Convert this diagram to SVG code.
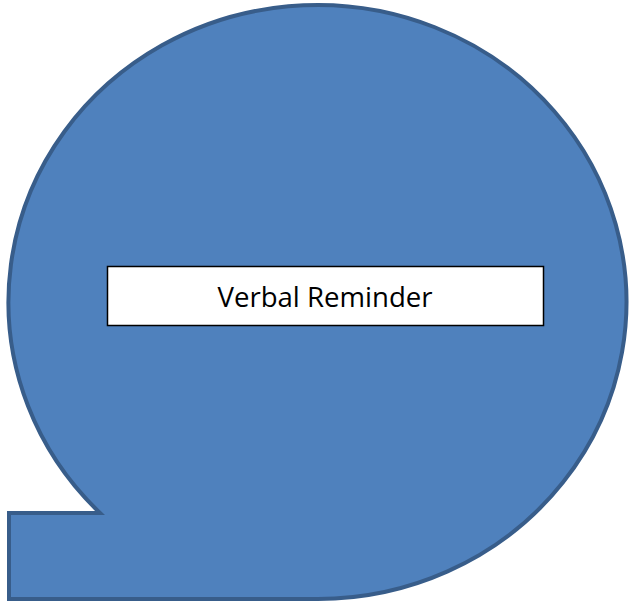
<svg xmlns="http://www.w3.org/2000/svg" width="630" height="605" viewBox="0 0 630 605">
  <style>
    .bubble { fill: #4f81bd; stroke: #385d8a; stroke-width: 4; stroke-linejoin: miter; }
    .box { fill: #ffffff; stroke: #000000; stroke-width: 1.5; }
    .label { font-family: "Open Sans", "Liberation Sans", sans-serif; font-size: 27px; fill: #000000; text-anchor: middle; }
  </style>
  <rect width="630" height="605" fill="#ffffff"/>
  <g id="bubble">
    <path class="bubble" d="M 100 513 A 309 297 0 1 1 318 599 L 9 599 L 9 513 Z"/>
  </g>
  <g id="verbal-reminder">
    <rect class="box" x="107.5" y="266.5" width="436" height="59"/>
    <text class="label" x="325" y="306.5" textLength="215" lengthAdjust="spacingAndGlyphs">Verbal Reminder</text>
  </g>
  <g id="connectors"/>
</svg>
